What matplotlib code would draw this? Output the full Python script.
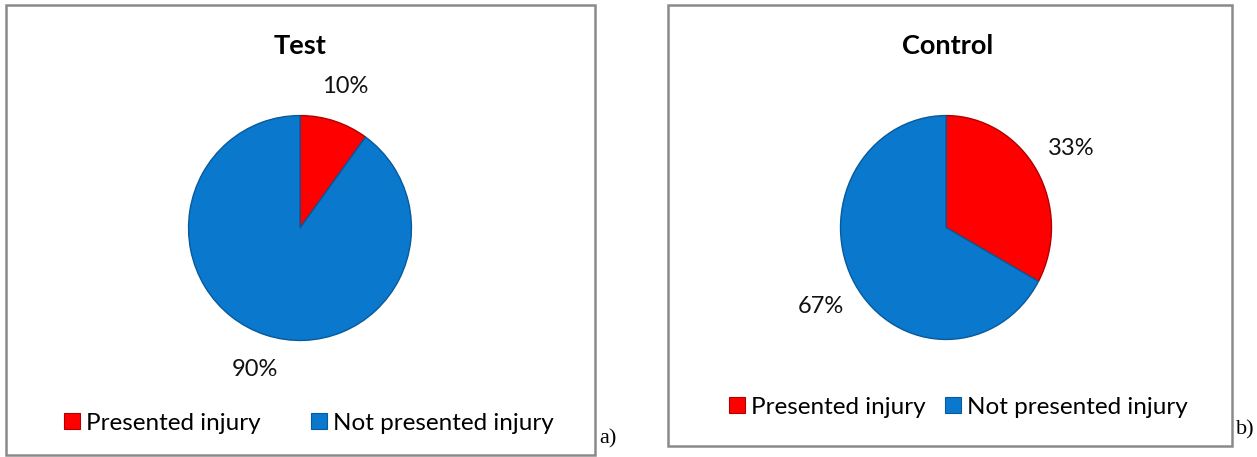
import numpy as np
import matplotlib
matplotlib.use("Agg")
import matplotlib.pyplot as plt
from matplotlib.patches import Rectangle
from matplotlib.lines import Line2D

# injury outcome per group (percent)
categories = ["Presented injury", "Not presented injury"]
test_values = [10, 90]
control_values = [33, 67]
titles = ["Test", "Control"]
panel_tags = ["a)", "b)"]

RED = "#FF0000"
BLUE = "#0A78CC"
RED_EDGE = "#B00000"
BLUE_EDGE = "#075A9C"

plt.rcParams["font.family"] = ["Lato", "DejaVu Sans"]

W, H = 1257, 457
fig = plt.figure(figsize=(W / 100, H / 100), dpi=100)


def fx(px):
    return px / W


def fy(py):
    return 1 - py / H


def draw_panel(values, title, tag, box, pie_box, title_x, legend_y, label_dist, legend_gap):
    bx0, by0, bx1, by1 = box
    fig.patches.append(Rectangle((fx(bx0), fy(by1)), fx(bx1 - bx0), (by1 - by0) / H,
                                 transform=fig.transFigure, fill=False,
                                 edgecolor="#8A8A8A", linewidth=1.8))
    px0, py0, px1, py1 = pie_box
    ax = fig.add_axes([fx(px0), fy(py1), fx(px1 - px0), (py1 - py0) / H])
    wedges, texts, autotexts = ax.pie(
        values, colors=[RED, BLUE], startangle=90, counterclock=False,
        autopct="%d%%", pctdistance=label_dist,
        wedgeprops=dict(linewidth=1.0),
        textprops=dict(fontsize=17, color="#111111"))
    for w, ec in zip(wedges, [RED_EDGE, BLUE_EDGE]):
        w.set_edgecolor(ec)
    ax.set_aspect("auto")
    ax.set_xlim(-1.005, 1.005)
    ax.set_ylim(-1.005, 1.005)
    ax.axis("off")

    fig.text(fx(title_x), fy(46), title, ha="center", va="center",
             fontsize=19.5, fontweight="bold")
    fig.text(fx(bx1 + 4), fy(by1 - 16), tag, ha="left", va="center",
             fontsize=16, family="Liberation Serif")

    handles = [Line2D([], [], marker="s", linestyle="none", markersize=11,
                      markerfacecolor=c, markeredgecolor=e, markeredgewidth=0.8)
               for c, e in zip([RED, BLUE], [RED_EDGE, BLUE_EDGE])]
    fig.legend(handles, categories, loc="center", ncol=2, frameon=False,
               bbox_to_anchor=(fx((bx0 + bx1) / 2 + 8), fy(legend_y)),
               fontsize=17.5, handletextpad=0.2, columnspacing=1.6 * legend_gap,
               handlelength=0.7)


draw_panel(test_values, titles[0], panel_tags[0],
           box=(6, 5, 595, 455), pie_box=(188, 115, 412, 341),
           title_x=300, legend_y=423, label_dist=1.32, legend_gap=1.3)
draw_panel(control_values, titles[1], panel_tags[1],
           box=(668, 5, 1232, 446), pie_box=(840, 115, 1052, 340),
           title_x=948, legend_y=407, label_dist=1.38, legend_gap=0.5)

fig.savefig("out.png", dpi=100)
